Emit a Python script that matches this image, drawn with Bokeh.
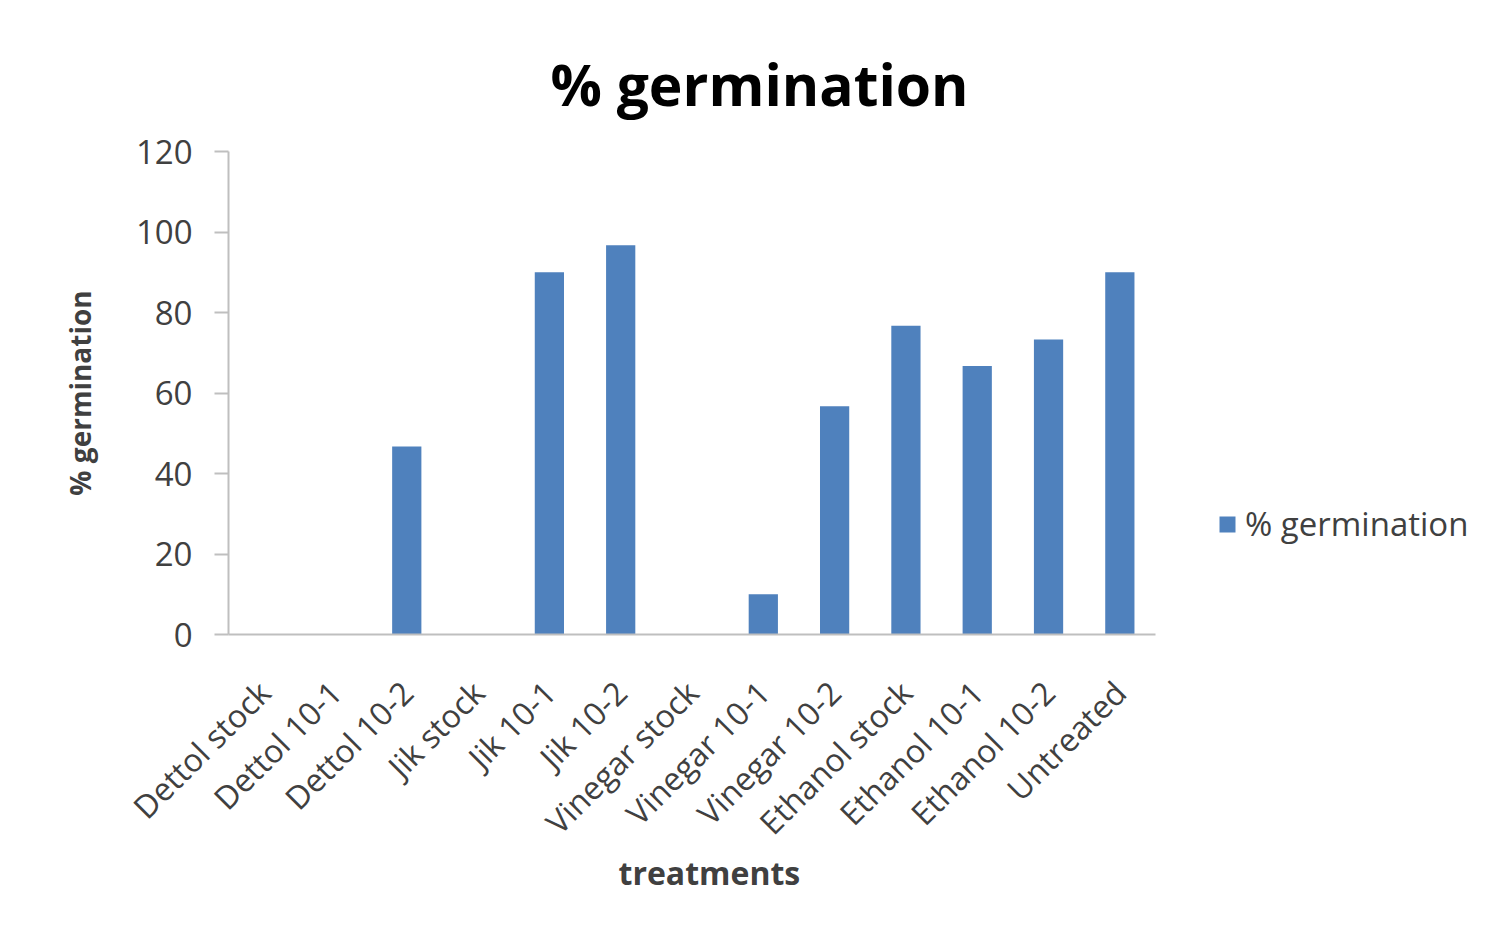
import math
from bokeh.plotting import figure
from bokeh.models import ColumnDataSource, Range1d, Legend, LegendItem, FixedTicker, Title
from bokeh.embed import file_html
from bokeh.resources import INLINE

treatments = ["Dettol stock", "Dettol 10-1", "Dettol 10-2", "Jik stock", "Jik 10-1",
              "Jik 10-2", "Vinegar stock", "Vinegar 10-1", "Vinegar 10-2",
              "Ethanol stock", "Ethanol 10-1", "Ethanol 10-2", "Untreated"]
germination = [0, 0, 46.7, 0, 90, 96.7, 0, 10, 56.7, 76.7, 66.7, 73.3, 90]
y_ticks = [0, 20, 40, 60, 80, 100, 120]

FONT = "Open Sans"
BLUE = "#4f81bd"
GREY_TXT = "#404040"

positions = list(range(len(treatments)))
src = ColumnDataSource(dict(x=positions, top=germination))

LEFT, RIGHT_EDGE, W, H = 228, 1490, 1496, 920
cat_px = (1155 - 228) / len(treatments)
span = (RIGHT_EDGE - LEFT) / cat_px

p = figure(x_range=Range1d(-0.5, -0.5 + span), y_range=Range1d(0, 120), width=W, height=H,
           output_backend="svg", toolbar_location=None,
           min_border_left=LEFT, min_border_right=W - RIGHT_EDGE,
           min_border_top=151, min_border_bottom=286)

r = p.vbar(x="x", top="top", width=0.41, source=src, fill_color=BLUE, line_color=None)

p.title.text = "% germination"
p.title.text_font = FONT
p.title.text_font_size = "57px"
p.title.text_font_style = "bold"
p.title.text_color = "black"
p.title.align = "left"
p.title.offset = 322
p.title.standoff = 58

p.xgrid.grid_line_color = None
p.ygrid.grid_line_color = None
p.outline_line_color = None

ya = p.yaxis[0]
ya.ticker = FixedTicker(ticks=y_ticks)
ya.axis_line_color = "#bfbfbf"
ya.axis_line_width = 2
ya.major_tick_line_color = "#bfbfbf"
ya.major_tick_line_width = 2
ya.major_tick_out = 14
ya.major_tick_in = 0
ya.minor_tick_line_color = None
ya.major_label_text_font = FONT
ya.major_label_text_font_size = "33px"
ya.major_label_text_color = GREY_TXT
ya.major_label_standoff = 22
ya.axis_label = "% germination"
ya.axis_label_text_font = FONT
ya.axis_label_text_font_size = "28px"
ya.axis_label_text_font_style = "bold"
ya.axis_label_text_color = GREY_TXT
ya.axis_label_standoff = 34

xa = p.xaxis[0]
xa.ticker = FixedTicker(ticks=positions)
xa.major_label_overrides = {i: t for i, t in zip(positions, treatments)}
xa.bounds = (-0.5, len(treatments) - 0.5)
xa.axis_line_color = "#bfbfbf"
xa.axis_line_width = 2
xa.major_tick_line_color = None
xa.minor_tick_line_color = None
xa.major_label_orientation = math.pi / 4
xa.major_label_text_font = FONT
xa.major_label_text_font_size = "32px"
xa.major_label_text_color = GREY_TXT
xa.major_label_standoff = 46

x_title = Title(text="treatments", align="left", offset=390, standoff=-64,
                text_font=FONT, text_font_size="32px", text_font_style="bold",
                text_color=GREY_TXT)
p.add_layout(x_title, "below")

legend = Legend(items=[LegendItem(label="% germination", renderers=[r])],
                location=(989, 88), border_line_color=None, background_fill_alpha=0,
                label_text_font=FONT, label_text_font_size="33px", label_text_color=GREY_TXT,
                glyph_width=20, glyph_height=20, label_standoff=8, padding=0, margin=0)
p.add_layout(legend, "center")

open("out.html", "w").write(file_html(p, INLINE))
